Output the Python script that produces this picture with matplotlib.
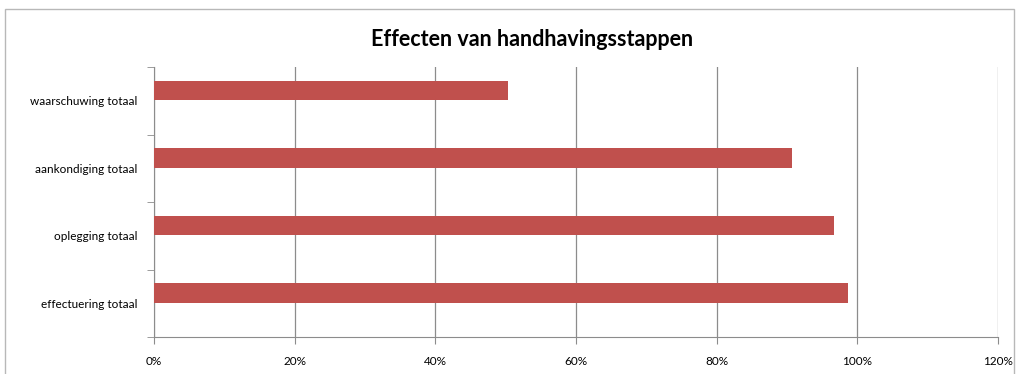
import matplotlib.pyplot as plt
import matplotlib.patches as mpatch
from matplotlib.ticker import PercentFormatter, FixedLocator

categories = ["effectuering totaal", "oplegging totaal", "aankondiging totaal", "waarschuwing totaal"]
values = [98.7, 96.7, 90.7, 50.3]
xticks = [0, 20, 40, 60, 80, 100, 120]

plt.rcParams['font.family'] = ['Lato', 'DejaVu Sans']

fig = plt.figure(figsize=(10.19, 3.74), dpi=100)
ax = fig.add_axes([154 / 1019, 1 - 337 / 374, (998 - 154) / 1019, (337 - 67) / 374])

# outer chart frame
fig.patches.append(mpatch.Rectangle((5 / 1019, -0.05), 1009 / 1019, 1 - 9 / 374 + 0.05,
                                    transform=fig.transFigure, fill=False,
                                    edgecolor="#b8b8b8", linewidth=1.0))

ypos = list(range(len(categories)))
# bars sit a little above the middle of each category band
ax.barh([y + 0.15 for y in ypos], values, height=0.29, color="#C0504D", zorder=3)

ax.set_xlim(0, 120)
ax.set_ylim(-0.5, len(categories) - 0.5)
ax.xaxis.set_major_locator(FixedLocator(xticks))
ax.xaxis.set_major_formatter(PercentFormatter(decimals=0))
ax.grid(axis="x", color="#8c8c8c", linewidth=0.9, zorder=0)

ax.set_yticks(ypos)
ax.set_yticklabels(categories)
ax.set_yticks([i - 0.5 for i in range(len(categories) + 1)], minor=True)
ax.tick_params(axis="y", which="major", length=0, pad=12, labelsize=8.5)
ax.tick_params(axis="y", which="minor", length=5, color="#8c8c8c", direction="out")
ax.tick_params(axis="x", length=5, color="#8c8c8c", pad=9, labelsize=8.5)

for s in ["top", "right"]:
    ax.spines[s].set_visible(False)
for s in ["left", "bottom"]:
    ax.spines[s].set_color("#8c8c8c")

fig.text(532 / 1019, 1 - 40 / 374, "Effecten van handhavingsstappen",
         ha="center", va="center", fontsize=15.5, fontweight="bold")

fig.savefig("out.png", dpi=100)
